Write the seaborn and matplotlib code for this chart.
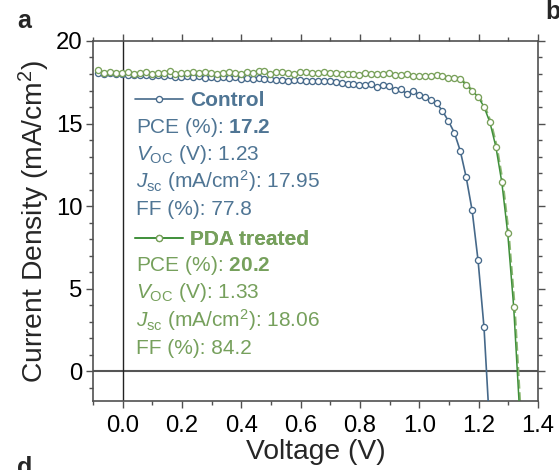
import numpy as np
import pandas as pd
import matplotlib
matplotlib.use("Agg")
import matplotlib.pyplot as plt
import matplotlib.transforms as mtransforms
from matplotlib.lines import Line2D
from matplotlib.ticker import MultipleLocator
import seaborn as sns

# ---------------- data ----------------
ctrl_v = [-0.082, -0.062, -0.042, -0.022, -0.002, 0.018, 0.038, 0.058, 0.078, 0.098,
          0.118, 0.138, 0.158, 0.178, 0.198, 0.218, 0.238, 0.258, 0.278, 0.298,
          0.318, 0.338, 0.358, 0.378, 0.398, 0.418, 0.438, 0.458, 0.478, 0.498,
          0.518, 0.538, 0.558, 0.578, 0.598, 0.618, 0.638, 0.658, 0.678, 0.698,
          0.718, 0.738, 0.758, 0.778, 0.798, 0.818, 0.838, 0.858, 0.878, 0.898,
          0.918, 0.938, 0.958, 0.978, 0.998, 1.018, 1.038, 1.058, 1.078, 1.098,
          1.118, 1.138, 1.158, 1.178, 1.198, 1.218]
ctrl_j = [18.08, 18.00, 18.05, 17.98, 18.02, 17.95, 17.97, 17.92, 17.96, 17.90,
          17.94, 17.88, 17.92, 17.84, 17.80, 17.90, 17.82, 17.86, 17.78, 17.84,
          17.76, 17.80, 17.74, 17.80, 17.72, 17.76, 17.70, 17.74, 17.68, 17.72,
          17.64, 17.66, 17.58, 17.62, 17.64, 17.58, 17.60, 17.60, 17.55, 17.58,
          17.52, 17.44, 17.38, 17.38, 17.33, 17.33, 17.42, 17.22, 17.32, 17.27,
          17.05, 17.07, 16.80, 17.00, 16.75, 16.60, 16.40, 16.24, 15.77, 15.15,
          14.45, 13.35, 11.75, 9.74, 6.71, 2.67]

pda_v = [-0.082, -0.062, -0.042, -0.022, -0.002, 0.018, 0.038, 0.058, 0.078, 0.098,
         0.118, 0.138, 0.158, 0.178, 0.198, 0.218, 0.238, 0.258, 0.278, 0.298,
         0.318, 0.338, 0.358, 0.378, 0.398, 0.418, 0.438, 0.458, 0.478, 0.498,
         0.518, 0.538, 0.558, 0.578, 0.598, 0.618, 0.638, 0.658, 0.678, 0.698,
         0.718, 0.738, 0.758, 0.778, 0.798, 0.818, 0.838, 0.858, 0.878, 0.898,
         0.918, 0.938, 0.958, 0.978, 0.998, 1.018, 1.038, 1.058, 1.078, 1.098,
         1.118, 1.138, 1.158, 1.178, 1.198, 1.218, 1.238, 1.258, 1.278, 1.298,
         1.318]
pda_j = [18.25, 18.05, 18.15, 18.08, 18.05, 18.12, 18.02, 18.08, 18.10, 18.00,
         18.06, 18.04, 18.18, 18.02, 18.08, 18.06, 18.10, 18.04, 18.14, 18.06,
         18.02, 18.08, 18.10, 18.04, 18.02, 18.10, 18.06, 18.18, 18.20, 17.98,
         18.12, 18.10, 18.06, 18.02, 18.10, 18.12, 18.04, 18.08, 18.14, 18.06,
         18.04, 17.98, 18.00, 18.02, 17.96, 18.04, 18.02, 18.00, 17.98, 18.04,
         17.94, 17.94, 17.98, 17.90, 17.88, 17.88, 17.88, 17.94, 17.90, 17.74,
         17.74, 17.70, 17.33, 16.99, 16.62, 16.02, 15.07, 13.60, 11.45, 8.35,
         3.92]

# end points of the J-V lines below the axis (beyond the last measured point)
ctrl_tail_v = [1.2343]
ctrl_tail_j = [-2.5]
pda_tail_v = [1.3382]
pda_tail_j = [-2.5]

x_ticks = [0.0, 0.2, 0.4, 0.6, 0.8, 1.0, 1.2, 1.4]
y_ticks = [0, 5, 10, 15, 20]

ctrl_stats = ["17.2", "1.23", "17.95", "77.8"]
pda_stats = ["20.2", "1.33", "18.06", "84.2"]

# ---------------- style ----------------
sns.set_style("ticks")
plt.rcParams["font.family"] = ["Liberation Sans", "DejaVu Sans"]
plt.rcParams["mathtext.fontset"] = "custom"
plt.rcParams["mathtext.rm"] = "Liberation Sans"
plt.rcParams["mathtext.it"] = "Liberation Sans:italic"
plt.rcParams["mathtext.bf"] = "Liberation Sans:bold"

C_BLUE = "#46698a"
C_BLUE_TXT = "#4f7594"
C_GREEN_MK = "#78a05a"
C_GREEN_LN = "#3f8f3a"
C_GREEN_DASH = "#8db873"
C_GREEN_TXT = "#76a05c"
SPINE = "#505050"
TXT_FS = 15
MS = 4.4
MEW = 0.95

fig = plt.figure(figsize=(5.59, 4.70), dpi=100)
ax = fig.add_axes([0.1664, 0.1468, 0.796, 0.766])

df_ctrl = pd.DataFrame({"V": ctrl_v, "J": ctrl_j})
df_pda = pd.DataFrame({"V": pda_v, "J": pda_j})
df_ctrl_line = pd.DataFrame({"V": ctrl_v + ctrl_tail_v, "J": ctrl_j + ctrl_tail_j})
df_pda_line = pd.DataFrame({"V": pda_v + pda_tail_v, "J": pda_j + pda_tail_j})

# reference lines
ax.axhline(0, color="#555555", lw=1.5, zorder=1)
ax.axvline(0, color="#222222", lw=1.0, zorder=1)

# lines
off = mtransforms.offset_copy(ax.transData, fig=fig, x=1.2, y=0, units="dots")
ax.plot(df_pda_line["V"], df_pda_line["J"], color=C_GREEN_DASH, lw=1.3,
        ls=(0, (5, 2)), transform=off, zorder=2)
sns.lineplot(data=df_pda_line, x="V", y="J", sort=False, estimator=None,
             color=C_GREEN_LN, lw=1.1, ax=ax, zorder=3)
sns.lineplot(data=df_ctrl_line, x="V", y="J", sort=False, estimator=None,
             color=C_BLUE, lw=1.2, ax=ax, zorder=3)

# markers
ax.plot(df_ctrl["V"], df_ctrl["J"], ls="none", marker="o", ms=MS, mfc="white",
        mec=C_BLUE, mew=MEW, zorder=4)
ax.plot(df_pda["V"], df_pda["J"], ls="none", marker="o", ms=MS, mfc="white",
        mec=C_GREEN_MK, mew=MEW, zorder=5)

# axes limits and ticks
ax.set_xlim(-0.1, 1.4)
ax.set_ylim(-1.8, 20)
ax.set_xticks(x_ticks)
ax.set_xticklabels([f"{t:.1f}" for t in x_ticks])
ax.set_yticks(y_ticks)
ax.set_yticklabels([str(t) for t in y_ticks])
ax.xaxis.set_minor_locator(MultipleLocator(0.1))
ax.yaxis.set_minor_locator(MultipleLocator(1))
ax.tick_params(which="both", direction="out", top=True, right=True,
               labeltop=False, labelright=False, color=SPINE, width=1.0,
               labelsize=17.2, labelcolor="black")
ax.tick_params(which="major", length=5.2)
ax.tick_params(axis="x", which="major", pad=5)
ax.tick_params(axis="y", which="major", pad=2.5)
ax.tick_params(which="minor", length=2.8)
for s in ax.spines.values():
    s.set_color(SPINE)
    s.set_linewidth(1.2)

ax.set_xlabel("Voltage (V)", fontsize=20.3, labelpad=1)
ax.set_ylabel("Current Density (mA/cm$^2$)", fontsize=20.3, labelpad=3)

# legend-like annotation blocks
def block(y0, color_line, mk_color, color_txt, title, stats):
    h = Line2D([], [], color=color_line, lw=1.2, marker="o", ms=MS,
               mfc="white", mec=mk_color, mew=MEW)
    leg = ax.legend([h], [title], loc="center left",
                    bbox_to_anchor=(0.076, y0), frameon=False,
                    handlelength=2.3, handletextpad=0.33, borderaxespad=0,
                    prop={"size": TXT_FS, "weight": "bold"}, labelcolor=color_txt)
    ax.add_artist(leg)
    lines = [rf"PCE (%): $\mathbf{{{stats[0]}}}$",
             rf"$V_{{\mathrm{{OC}}}}$ (V): {stats[1]}",
             rf"$J_{{\mathrm{{sc}}}}$ (mA/cm$^2$): {stats[2]}",
             rf"FF (%): {stats[3]}"]
    ys = [y0 - 0.074, y0 - 0.148, y0 - 0.224, y0 - 0.303]
    for t, yy in zip(lines, ys):
        ax.text(0.096, yy, t, transform=ax.transAxes, fontsize=TXT_FS,
                color=color_txt, va="center", ha="left")

block(0.834, C_BLUE, C_BLUE, C_BLUE_TXT, "Control", ctrl_stats)
block(0.449, C_GREEN_LN, C_GREEN_MK, C_GREEN_TXT, "PDA treated", pda_stats)

# panel letters
fig.text(0.030, 0.955, "a", fontsize=18, fontweight="bold", va="center", ha="left")
fig.text(0.975, 0.975, "b", fontsize=18, fontweight="bold", va="center", ha="left")
fig.text(0.030, 0.005, "d", fontsize=18, fontweight="bold", va="center", ha="left")

fig.savefig("out.png", dpi=100)
